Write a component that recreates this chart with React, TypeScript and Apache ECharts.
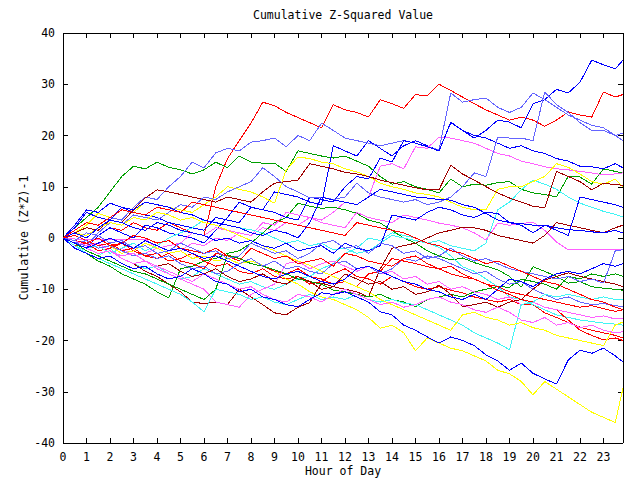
import React, { useEffect, useRef } from "react";
import * as echarts from "echarts";

// Sample times: every half hour from 0 to 23.5, plus the last reading at 23.83
const LAST_HOUR = 23.83;
const HOURS: number[] = [...Array.from({ length: 48 }, (_, i) => i * 0.5), LAST_HOUR];

const X_TICKS = Array.from({ length: 24 }, (_, i) => i);
const Y_TICKS = [-40, -30, -20, -10, 0, 10, 20, 30, 40];

const TITLE = "Cumulative Z-Squared Value";
const X_NAME = "Hour of Day";
const Y_NAME = "Cumulative (Z*Z)-1";

const RED = "#ff0000";
const GREEN = "#00a000";
const BLUE = "#0000ff";
const MAGENTA = "#ff60ff";
const LIGHTBLUE = "#6464ff";
const CYAN = "#40f4f4";
const YELLOW = "#ffff00";
const DARKRED = "#a00000";

const blueTop = [0, -1, -2, 0.5, 2, 1, 0, 2.5, 2, 1, 0.5, 0, -1, 1.5, 4, 7, 6, 5.5, 9, 8.5, 8, 7, 6.5, 18, 17, 16, 19, 17.5, 16, 18, 19, 18, 17, 22.5, 21, 19.5, 21, 23, 22.6, 21.5, 26.2, 27, 29, 28.3, 30.4, 34.7, 33.8, 33, 34.7];
const redTop = [0, -0.5, 1, 0.5, 2, 1.5, 3, 2, 1.5, 3, 2, 1, 0.5, 10, 15.5, 19, 22.4, 26.5, 25.8, 24.5, 23.5, 22.5, 21.5, 26, 25, 24.5, 23.6, 27, 26.2, 25.3, 28, 27.7, 30, 28.8, 27.5, 26.2, 25, 24, 23, 23.6, 23, 21.8, 23, 24.6, 24, 23.6, 28.5, 27.5, 28];
const lightBlueA = [0, 1.5, 3, 2.5, 4, 3.5, 6, 8, 7.5, 10, 12, 14.8, 13.7, 16.6, 17.5, 17, 18.7, 19, 19.5, 17.8, 20, 19, 22.4, 21, 19.5, 19, 18.5, 18, 18.5, 19, 18.5, 17.8, 17.2, 28.3, 26.5, 27, 27.3, 25.5, 24.5, 25.5, 28.3, 27, 25.5, 24, 23, 22, 21.5, 20, 19];
const lightBlueB = [0, -1, -1.5, 1, 3, 2.5, 4.5, 4, 3.5, 5, 6.5, 6, 8, 7.5, 9, 10, 11, 13.7, 12, 10, 9, 7.8, 8, 7.5, 8, 10.7, 8.8, 8, 7.5, 7, 7.5, 6.5, 7, 8, 10, 12.7, 12, 19.7, 19.5, 19.5, 19, 28.5, 26, 24.5, 22.5, 21, 21, 20, 20.5];
const blueB = [0, 2, 5, 4, 3.5, 6, 5, 4.5, 4, 3, 2.5, 2, 1.5, 4, 3.5, 3, 6, 5.5, 5, 4, 3.5, 8, 7.5, 7, 10, 12, 11.5, 15.6, 14.8, 19, 18.5, 17.8, 17, 22.6, 21, 20, 19.5, 18.5, 17.5, 18, 17, 16.5, 15.5, 15, 14, 13.9, 13.5, 14.5, 13.7];
const greenTop = [0, 2, 4, 6, 9, 12, 14, 13.5, 14.8, 13.8, 13.3, 12.5, 13.3, 14.8, 13.7, 16, 14.8, 14.6, 14.6, 13, 17, 16.5, 16, 15.6, 16, 15, 14, 12, 10.5, 11, 10, 9.5, 8.8, 11.5, 10, 10.5, 10.3, 10.8, 11, 9.5, 8.8, 8.5, 8, 12, 11.9, 10.5, 13.5, 13, 12.7];
const magentaA = [0, -1, -2, -1.5, -3, -2, -3.5, -3, -2, -3, -2.5, -1, -1.5, 0, -0.5, 1, 0.5, 2, 1.5, 3, 2.5, 4, 3.5, 5, 7, 6.5, 8, 14, 14.5, 13.5, 17.8, 17.5, 19.7, 19.5, 19, 18.5, 17.5, 16.5, 16, 15, 14.5, 13.9, 13.5, 13.3, 13, 12.7, 12.3, 12.5, 12.7];
const yellowA = [0, 1, 2.5, 4.8, 4, 5.5, 5, 7, 6.5, 6, 5.5, 5, 6.5, 8, 10, 9.5, 9, 8, 6.8, 13.3, 15.8, 15.5, 14.8, 14.5, 13.5, 12.9, 12, 10.7, 10, 9.5, 8.8, 8.5, 8, 7, 6, 5.5, 5.5, 9.5, 10, 10, 11, 12, 14.5, 13.8, 12.5, 11, 10.5, 11.5, 10];
const darkRedA = [0, 1, 2, 1.5, 3.5, 3, 5.5, 7.8, 9.4, 9, 8.5, 8, 7.5, 7, 8, 7.5, 7, 9, 10.7, 11, 11.3, 14.5, 14, 13.5, 12.8, 12.5, 12, 11.3, 10.8, 10.3, 9.8, 9.4, 9.4, 14.2, 12.5, 11.3, 10, 8.8, 7.8, 7, 6.2, 5.9, 13, 12, 11, 9.4, 10.7, 10.4, 10.3];
const cyanA = [0, -1.5, -2.5, -3.5, -2, -4, -5, -6, -5.5, -7, -8, -7.5, -6, -7, -8, -9, -8.5, -9.5, -10, -9, -8, -7.5, -6, -5, -3, -2, 0, -0.5, 1, 0.5, 0, -1, -0.5, -1.5, -2, -2.5, -1, 5.5, 7, 9.4, 11.3, 10.5, 9.5, 8, 6.8, 6, 5.2, 4.6, 4.1];
const blueC = [0, 2.5, 5.5, 5, 6.8, 6, 5.5, 7, 6.5, 6, 5, 4.5, 3.5, 3, 2.5, 2, 1, 0.5, 1.5, 1, 0, 3, 8, 7.4, 7, 6.5, 8, 9.5, 9, 8.5, 8, 7.8, 7.5, 7.4, 6.5, 6, 4.8, 3.5, 3, 2.8, 2.5, 2.5, 1.5, 0.5, 8, 7.5, 7, 6.5, 6];
const magentaFlat = [0, -0.2, -0.2, -0.2, -0.2, -0.2, -0.2, -0.2, -2, -1.5, -1, 1, 0.5, 2, 1.5, 1, 0.5, 3, 2.5, 5, 4.5, 4, 3, 2.5, 2, 5, 4, 3.5, 3, 4.5, 4, 3.5, 2.9, 2.5, 2, 1, -0.4, 2.9, 2.5, 2.8, 3.1, 1.5, -0.8, -2.3, -2.3, -2.3, -2.3, -2.3, -2.3];
const darkRedB = [0, -1, -2, -3, -2.5, -4, -5, -6.5, -7.5, -9, -10.5, -12.5, -12.8, -12.5, -13, -10, -11.5, -13, -14.6, -15, -13.5, -12.6, -8.8, -9.5, -10, -10.5, -11.5, -6, -2, -1.5, -1, 0, 1, 1.5, 2.1, 2, 1.5, 0.5, 0, -0.5, -1, 0.5, 3, 2.5, 2, 1.5, 1, 2, 2.5];
const blueD = [0, 1, 0, 2, 3.5, 3, 2, 1.5, 3, 2.5, 1.5, 1, 0.5, -0.5, 0, -1, -0.5, -1.5, -2, -1, -2.5, -2, -1.5, -3, -1, -2, -2.5, -1.5, 4.5, 4, 3.5, 5, 6, 5.5, 4.5, 4, 5, 4.8, 3, 2.5, 1, 2.5, 2, 1.6, 1.5, 1.2, 1, 1.5, 1];
const yellowLow = [0, -1, -0.5, -2, -1.5, -3, -2.5, -1, -2, -3, -2.5, -4, -3.5, -4.5, -4, -5, -4.5, -5.3, -6.5, -8, -9, -10.5, -11.5, -12, -13, -14, -15.5, -17.6, -17, -18.5, -22, -19.5, -20.5, -21.5, -22, -23, -24, -25.8, -26.5, -28, -30.6, -28, -29.5, -31, -32.5, -34, -35, -36, -29.3];
const darkRedC = [0, -1, -2, -1, -2.5, -3.5, -3, -4.5, -5.5, -5, -6.5, -7.5, -7, -6, -7.5, -8.5, -8, -7, -8.5, -9, -7.5, -8.5, -10, -9.5, -7, -8, -9, -8.5, -10, -9.5, -11, -10.5, -9.2, -11, -13.4, -13, -12.5, -13.5, -12.5, -12, -10, -8.2, -7.5, -6.8, -7.5, -8, -8.5, -9, -9.5];
const greenB = [0, -1.5, -3, -4.5, -5.5, -7, -8, -9, -10.5, -11.7, -6, -5.5, -4.5, -4, -3, -2.5, -1, 1, 3, 4, 6.8, 6.2, 5.8, 6, 5.5, 4.8, 3.5, 2.9, 1.5, 0, -1, -2.5, -3.5, -4.3, -3.9, -4.8, -5.5, -6.2, -7.5, -9.6, -5.6, -6.5, -7.5, -8.8, -8.5, -9.5, -9.8, -10, -10.2];
const blueLow = [0, -2, -3, -4, -3.5, -5, -6, -5.5, -7, -8, -7.5, -6, -7, -8.5, -9, -10.5, -10, -11.5, -12, -13, -13.4, -12, -10.7, -11, -10.5, -11.5, -12.5, -14.4, -15, -17, -18, -19.3, -20.5, -19.3, -20, -21, -22.8, -24, -25.8, -24.4, -26.4, -27.5, -28.5, -23.8, -21.9, -22.5, -21.5, -23, -24.2];
const cyanB = [0, -1, -2, -1.5, -3, -2, -1, -2.5, -1.5, 0, 1, 2, 3.5, 3, 2.5, 2, 1.6, 1, 0, -1, -0.5, -1.5, -1, -2.3, -2, -3, -2.5, -1, 0.5, 0, -0.5, -1, -1.8, -3.5, -5.6, -6.5, -8, -9.5, -11.5, -12, -13, -14, -15, -15.5, -16, -16.3, -16.6, -16.8, -17];
const redB = [0, -1.5, -1, -2.5, -2, -1, -2.5, -3.5, -3, -4.5, -4, -3, -4.5, -5.5, -5, -6.5, -7, -6, -7.5, -8, -7.5, -9, -8.5, -7, -6, -7.5, -8, -9, -7.5, -8.5, -9.5, -10, -9.5, -10.2, -10.7, -11.5, -12, -12.5, -12, -13, -13, -14.6, -15.5, -16.5, -17.4, -18, -18.5, -19, -19.5];
const redC = [0, 0.5, -0.5, -1.5, -1, -2.5, -2, -3.5, -4, -3, -4.5, -5, -6, -3, -3.5, -4, -5, -5.5, -6.5, -7, -6, -7.5, -8, -9, -8.5, -9.5, -7, -6.5, -4, -4.5, -5, -5.6, -6, -7, -7.6, -8, -9, -10.2, -11, -12, -12.5, -13.5, -14, -16, -18, -19, -19.9, -19.5, -20];
const redD = [0, -0.5, -1, 0, -1.5, -1, 0.5, 0, -1, -0.5, -2, -2.5, -3, -2, -3.5, -4.5, -2, -3, -4, -3.5, -5, -4.5, -4, -5.5, -3, -3.5, -4.5, -5, -5.5, -4, -3.5, -5, -6, -5.5, -7, -8, -9, -9.5, -10.5, -11, -11.5, -12, -12.5, -13, -13.5, -13.2, -13.8, -14.3, -14];
const magentaB = [0, -1, -2, -3, -2.5, -4, -5, -4.5, -6, -7, -8, -9, -10, -12.5, -13, -13.5, -11, -10, -9, -5, -4.5, -6, -5, -4.5, -5.5, -6.5, -5.5, -7, -6.5, -8, -7.5, -9, -8.5, -10, -9.5, -10.5, -11, -12, -11.5, -13, -12.5, -13.5, -14, -14.5, -15, -15.5, -15.2, -15.8, -15.6];
const magentaC = [0, -0.5, -1.5, -1, -2.5, -3.5, -3, -4.5, -5.5, -6.5, -7.5, -8.5, -7, -8, -9, -10, -9.5, -11, -12, -12.5, -11, -11.5, -12.5, -11, -10, -11, -12, -13, -12.5, -13.5, -13, -12, -11.5, -12.5, -13, -14, -14.5, -13.5, -14.5, -16, -16.5, -15.5, -17, -16.5, -17.5, -17, -18, -18.5, -18.3];
const lightBlueC = [0, -1, -0.5, -2, -1.5, -2.5, -3.5, -3, -4, -3.5, -5, -6, -5.5, -7, -6.5, -5, -4, -5.5, -4.5, -6, -5.5, -6.5, -7, -5, -4.5, -6, -5.5, -7, -6, -4, -4.5, -3.5, -4, -5, -6, -7, -6.5, -8, -9, -8.5, -10, -11, -12, -11.5, -12.5, -13, -12.8, -13.2, -13.4];
const lightBlueD = [0, -0.5, 1, 0.5, -1, -0.5, -2, -1.5, -3, -2.5, -1, -2, -3, -2.5, -4, -3.5, -1, -2, -3, -2.5, -4, -3, -1, -0.5, -2, -1.5, -3, -1, -1.5, -3, -2.5, -4, -3.5, -2, -3.5, -4.5, -4, -5, -6, -6.5, -7, -7.5, -8, -7.5, -8.5, -8, -8.8, -2.5, -2.3];
const cyanC = [0, -1.5, -3, -4, -5, -6, -7, -8, -9, -10, -11, -12.5, -14.4, -10, -10.5, -11, -12, -11.5, -12.5, -13, -12, -11, -12, -11.5, -12, -11, -12, -12.5, -12, -12.7, -13, -14, -15, -16, -17, -18.5, -19.5, -20.5, -21.8, -13, -12.5, -11, -11.5, -11, -11.5, -12, -11.5, -12, -12];
const greenC = [0, -1, -2.5, -3.5, -4.5, -5.5, -6.5, -7, -8, -9, -10, -11, -12, -10, -3.3, -4, -5, -5.5, -6.2, -7, -8, -8.5, -9, -10.2, -10.5, -11, -11.5, -11, -12, -12.5, -13.4, -12, -11.5, -11, -11.5, -10.5, -10, -9.5, -9.6, -8, -8.5, -9, -10, -7.5, -8, -7, -7.5, -7, -7.5];
const yellowB = [0, 1, 0.5, 2, 3, 2.5, 4, 3.5, 5, 4.5, 3.5, 4, 3, 2.5, 1.5, 0.5, -0.5, -1.5, -2.5, -3.5, -4.5, -5.3, -6.5, -7.5, -8.5, -9.5, -10.5, -12, -13, -14, -15, -16, -17, -18, -15, -14.5, -15.5, -16, -17, -16.5, -17.5, -18, -19, -19.5, -20, -20.5, -21, -17, -16.4];
const blueE = [0, -1, -2, -1, 0, -1, -2, -0.5, -1.5, -2.5, -2, -3, -4, -3.5, -4.5, -5.5, -6.5, -7.5, -8, -7, -6.5, -7.5, -8.5, -9, -8, -6, -5.5, -6.5, -7.5, -8.5, -9, -10, -10.5, -11.5, -12, -11, -12, -10, -8, -8.5, -9.5, -8, -7, -6.5, -7, -6, -5, -5.5, -5];
const redE = [0, 1.5, 3, 2.5, 4, 5.5, 5, 4.5, 6, 5.5, 5, 7, 6.5, 6, 5.5, 5, 4.5, 4, 3.5, 3, 2.5, 2, 1.5, 1, 0.5, 3, 2.5, 2, 1.5, 1, 0, -1, -1.5, -2.5, -3, -4, -5, -4.5, -5.5, -6.5, -7.5, -8.5, -9, -10, -11, -12, -12.5, -13.5, -14];

const SERIES: { values: number[]; color: string }[] = [
  { values: redTop, color: RED },
  { values: greenTop, color: GREEN },
  { values: blueTop, color: BLUE },
  { values: magentaA, color: MAGENTA },
  { values: lightBlueA, color: LIGHTBLUE },
  { values: cyanA, color: CYAN },
  { values: yellowA, color: YELLOW },
  { values: darkRedA, color: DARKRED },
  { values: redB, color: RED },
  { values: greenB, color: GREEN },
  { values: blueB, color: BLUE },
  { values: magentaFlat, color: MAGENTA },
  { values: lightBlueB, color: LIGHTBLUE },
  { values: cyanB, color: CYAN },
  { values: yellowLow, color: YELLOW },
  { values: darkRedB, color: DARKRED },
  { values: redC, color: RED },
  { values: greenC, color: GREEN },
  { values: blueC, color: BLUE },
  { values: magentaB, color: MAGENTA },
  { values: lightBlueC, color: LIGHTBLUE },
  { values: cyanC, color: CYAN },
  { values: yellowB, color: YELLOW },
  { values: darkRedC, color: DARKRED },
  { values: redD, color: RED },
  { values: blueD, color: BLUE },
  { values: magentaC, color: MAGENTA },
  { values: lightBlueD, color: LIGHTBLUE },
  { values: blueLow, color: BLUE },
  { values: redE, color: RED },
  { values: blueE, color: BLUE },
];

const FONT = '"DejaVu Sans Mono", "Liberation Mono", monospace';
const FS = 11.5;

export default function App() {
  const ref = useRef<HTMLDivElement>(null);

  useEffect(() => {
    if (!ref.current) return;
    const chart = echarts.init(ref.current, undefined, { renderer: "svg" });

    const axisCommon = {
      type: "value" as const,
      axisLine: { show: true, onZero: false, lineStyle: { color: "#000", width: 1 } },
      axisTick: { show: true, inside: true, length: 5, lineStyle: { color: "#000", width: 1 } },
      splitLine: { show: false },
    };

    const option: any = {
      animation: false,
      backgroundColor: "#ffffff",
      grid: { left: 63, right: 17, top: 33, bottom: 37, containLabel: false },
      xAxis: [
        {
          ...axisCommon,
          position: "bottom",
          min: 0,
          max: LAST_HOUR,
          interval: 1,
          axisLabel: {
            show: true,
            margin: 8,
            color: "#000",
            fontFamily: FONT,
            fontSize: FS,
            showMaxLabel: false,
            formatter: (v: number) => (X_TICKS.includes(v) ? String(v) : ""),
          },
        },
        {
          ...axisCommon,
          position: "top",
          min: 0,
          max: LAST_HOUR,
          interval: 1,
          axisLabel: { show: false },
        },
      ],
      yAxis: [
        {
          ...axisCommon,
          position: "left",
          min: Y_TICKS[0],
          max: Y_TICKS[Y_TICKS.length - 1],
          interval: 10,
          axisLabel: {
            show: true,
            margin: 8,
            color: "#000",
            fontFamily: FONT,
            fontSize: FS,
          },
        },
        {
          ...axisCommon,
          position: "right",
          min: Y_TICKS[0],
          max: Y_TICKS[Y_TICKS.length - 1],
          interval: 10,
          axisLabel: { show: false },
        },
      ],
      graphic: [
        {
          type: "text",
          x: 343,
          y: 15,
          style: {
            text: TITLE,
            font: `${FS}px ${FONT}`,
            fill: "#000",
            textAlign: "center",
            textVerticalAlign: "middle",
            align: "center",
            verticalAlign: "middle",
          },
        },
        {
          type: "text",
          x: 343,
          y: 471,
          style: {
            text: X_NAME,
            font: `${FS}px ${FONT}`,
            fill: "#000",
            textAlign: "center",
            textVerticalAlign: "middle",
            align: "center",
            verticalAlign: "middle",
          },
        },
        {
          type: "text",
          x: 24,
          y: 238,
          rotation: Math.PI / 2,
          style: {
            text: Y_NAME,
            font: `${FS}px ${FONT}`,
            fill: "#000",
            textAlign: "center",
            textVerticalAlign: "middle",
            align: "center",
            verticalAlign: "middle",
          },
        },
      ],
      series: SERIES.map((s, i) => ({
        type: "line",
        name: `s${i}`,
        xAxisIndex: 0,
        yAxisIndex: 0,
        showSymbol: false,
        symbol: "none",
        silent: true,
        clip: true,
        lineStyle: { color: s.color, width: 1 },
        itemStyle: { color: s.color },
        data: s.values.map((v, j) => [HOURS[j], v]),
      })),
    };

    chart.setOption(option);
    return () => chart.dispose();
  }, []);

  return (
    <>
      <style>{`.zchart svg path { shape-rendering: crispEdges; }`}</style>
      <div
        ref={ref}
        className="zchart"
        style={{ position: "fixed", left: 0, top: 0, width: 640, height: 480, background: "#fff" }}
      />
    </>
  );
}
